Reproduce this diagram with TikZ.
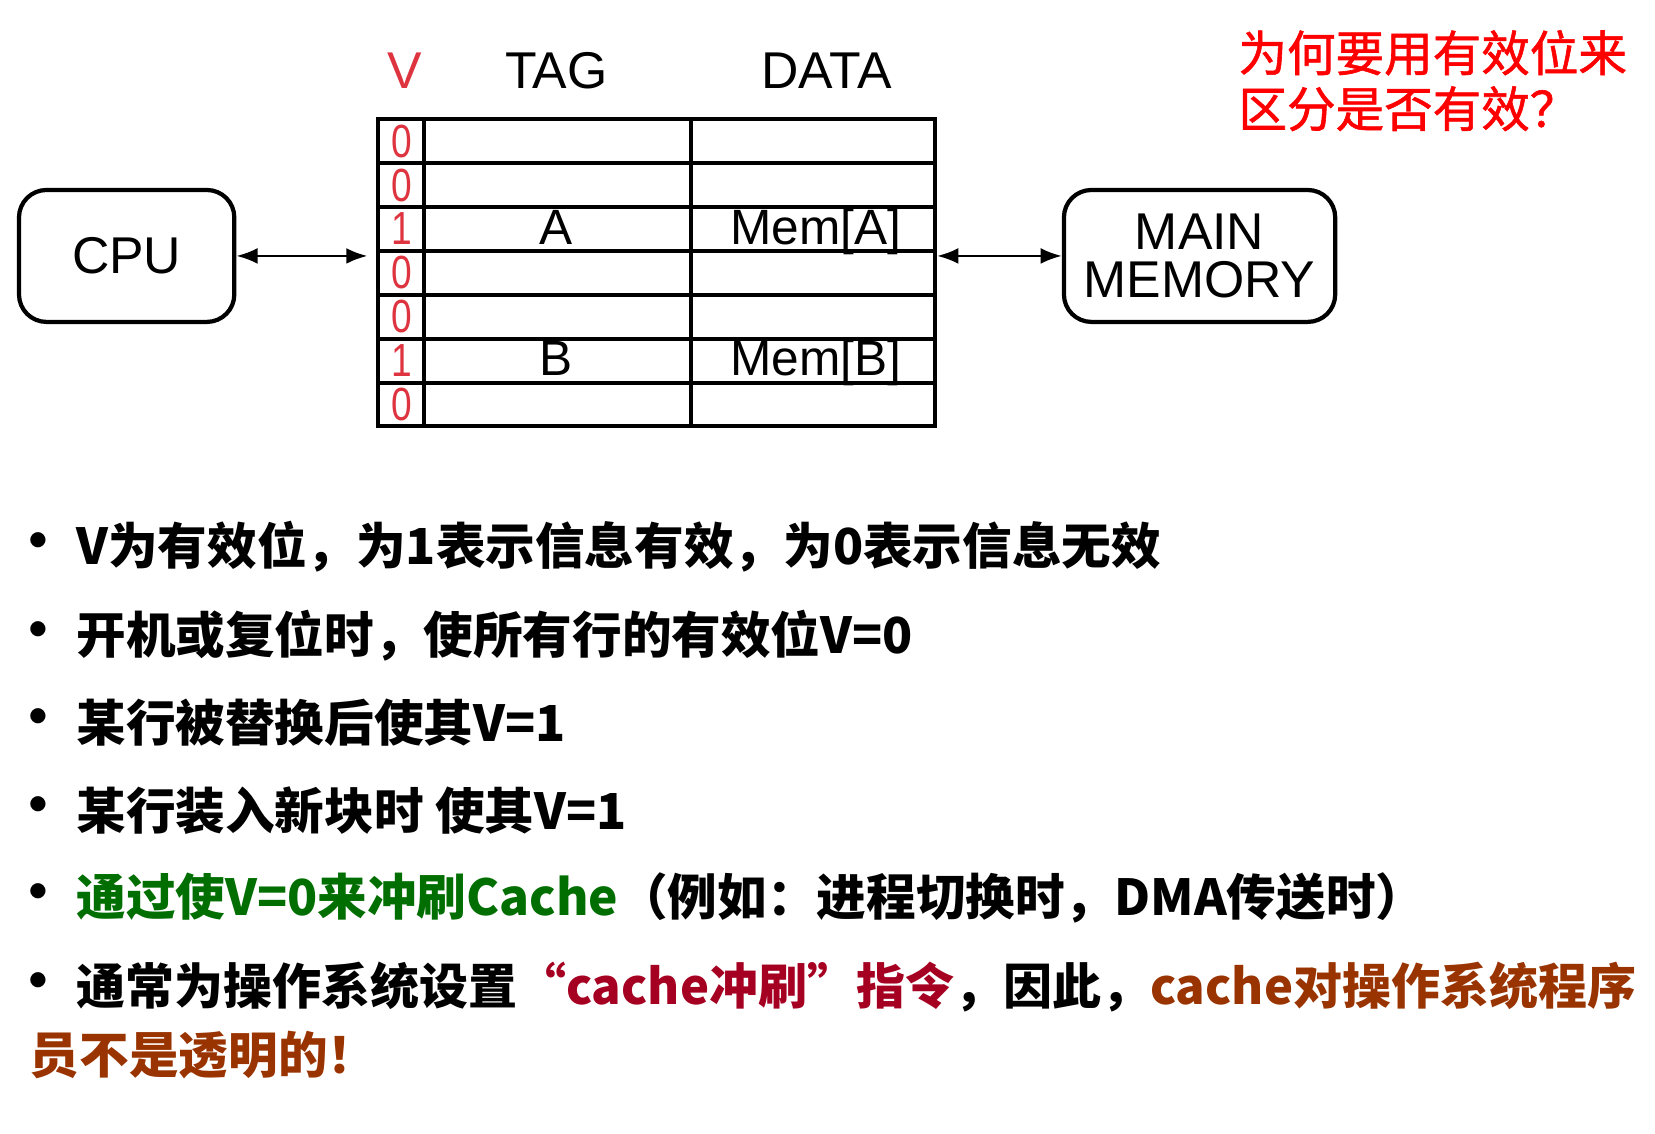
\documentclass[tikz,border=0pt]{standalone}
\usepackage{fontspec}
\setmainfont{Liberation Sans}
\newfontfamily\cjk{Noto Sans CJK SC}
\newfontfamily\cjkq[FakeBold=1.2]{Noto Sans CJK SC}
\usetikzlibrary{arrows.meta}
\definecolor{vred}{RGB}{222,52,64}
\definecolor{qred}{RGB}{255,0,0}
\definecolor{tgreen}{RGB}{0,110,0}
\definecolor{tcrim}{RGB}{165,0,33}
\definecolor{tbrown}{RGB}{153,51,0}
\begin{document}
\begin{tikzpicture}[x=0.5pt,y=-0.5pt,
  hdr/.style={inner sep=0pt,font=\fontsize{24.5}{26}\selectfont},
  cell/.style={inner sep=0pt,anchor=base,font=\fontsize{23.5}{24}\selectfont},
  vdigit/.style={inner sep=0pt,text=vred,xscale=0.8,font=\fontsize{22}{22}\selectfont},
  unitbox/.style={draw,line width=2pt,rounded corners=13pt,align=center,inner sep=0pt,
    font=\fontsize{24.5}{23}\selectfont},
  tabline/.style={line width=1.9pt},
  bus/.style={line width=1.2pt,{Latex[length=10pt,width=7.5pt]}-{Latex[length=10pt,width=7.5pt]}},
  bul/.style={inner sep=0pt,font=\cjk\fontsize{34}{34}\selectfont},
  btext/.style={anchor=west,inner sep=0pt,font=\cjk\bfseries\fontsize{23.5}{25}\selectfont},
  qtext/.style={anchor=west,inner sep=0pt,text=qred,font=\cjkq\fontsize{23}{25}\selectfont}
]
\useasboundingbox (0,0) rectangle (1568,1074);

% headers
\node[hdr,text=vred] (vh) at (383,67) {V};
\node[hdr] (tagh) at (527,67) {TAG};
\node[hdr] (datah) at (783,67) {DATA};

% cache table
\node[draw,tabline,minimum width=264pt,minimum height=145.5pt,inner sep=0pt] (cache) at (622,258.5) {};
\foreach \i in {1,...,6}{
  \draw[tabline] (358,{113+\i*41.571}) -- (886,{113+\i*41.571});
}
\draw[tabline] (402,113) -- (402,404);
\draw[tabline] (655,113) -- (655,404);
\foreach \d [count=\i] in {0,0,1,0,0,1,0}{
  \node[vdigit] (v\i) at (381,{113+(\i-0.5)*41.571}) {\d};
}
\node[cell] (ta) at (527,232) {A};
\node[cell] (da) at (773,232) {Mem[A]};
\node[cell] (tb) at (527,356) {B};
\node[cell] (db) at (773,356) {Mem[B]};

% units
\node[unitbox,minimum width=102pt,minimum height=62.5pt] (cpu) at (120,242.5) {CPU};
\node[unitbox,minimum width=128.5pt,minimum height=62.5pt] (mem) at (1136.5,242.5) {MAIN\\MEMORY};

\draw[bus,shorten >=4pt] (cpu.east) -- (cpu.east -| cache.west);
\draw[bus] (cache.east |- mem.west) -- (mem.west);

% question
\node[qtext] (q1) at (1173,50) {为何要用有效位来};
\node[qtext] (q2) at (1173,103) {区分是否有效？};

% bullets
\foreach \y [count=\i] in {518,602,685,768,851,935}{
  \node[bul] (b\i) at (36,{\y+3}) {•};
}
\node[btext] (t1) at (72,518) {V为有效位，为1表示信息有效，为0表示信息无效};
\node[btext] (t2) at (72,602) {开机或复位时，使所有行的有效位V=0};
\node[btext] (t3) at (72,685) {某行被替换后使其V=1};
\node[btext] (t4) at (72,768) {某行装入新块时 使其V=1};
\node[btext] (t5) at (72,851) {\textcolor{tgreen}{通过使V=0来冲刷Cache}（例如：进程切换时，DMA传送时）};
\node[btext,font=\cjk\bfseries\fontsize{23.2}{25}\selectfont] (t6) at (72,935) {通常为操作系统设置\textcolor{tcrim}{“cache冲刷”指令}，因此，\textcolor{tbrown}{cache对操作系统程序}};
\node[btext,text=tbrown] (t7) at (28,1000) {员不是透明的！};
\end{tikzpicture}
\end{document}
